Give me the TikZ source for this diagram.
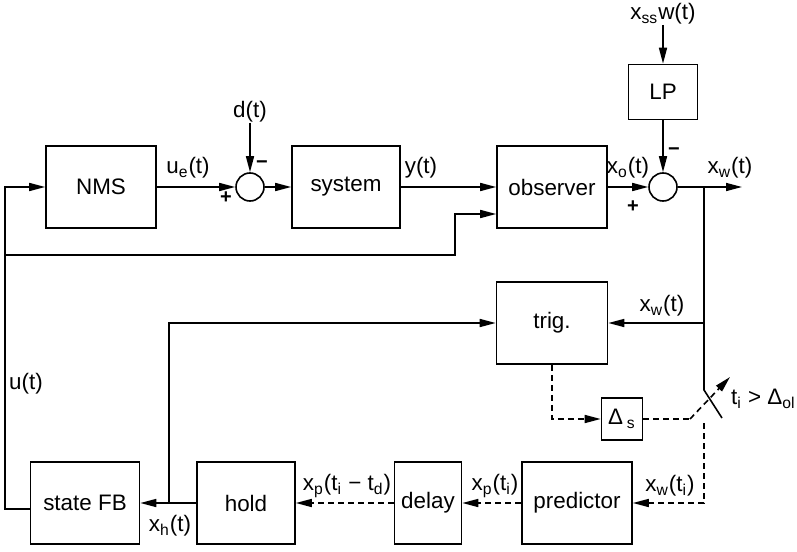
\documentclass[tikz,border=0pt]{standalone}
\usepackage{fontspec}
\setmainfont{Liberation Sans}
\usetikzlibrary{arrows.meta}
\def\sub#1{\textsubscript{#1}}
\tikzset{
	block/.style={draw, line width=0.8pt, minimum height=41pt, inner sep=0pt},
	sumnode/.style={draw, circle, line width=0.8pt, minimum size=14pt, inner sep=0pt},
	sig/.style={line width=0.8pt, -{Triangle[length=8pt,width=4pt]}},
	ln/.style={line width=0.8pt},
	dsh/.style={dash pattern=on 3pt off 2pt},
	lab/.style={inner sep=0pt}
}
\begin{document}
\begin{tikzpicture}[x=0.5pt, y=-0.5pt, font=\fontsize{11.2}{13}\selectfont]
			%%%%% START %%%%%
			\useasboundingbox (0,0) rectangle (797,551);
			
			% upper loop
			\node[block, minimum width=55pt] (nms) at (101,187) {NMS};
			\node[sumnode] (sumd) at (250,187) {};
			\node[block, minimum width=54pt] (sys) at (346,187) {system};
			\node[block, minimum width=55pt] (obs) at (552,187) {observer};
			\node[sumnode] (sumw) at (663,187) {};
			\node[block, minimum width=34.5pt, minimum height=27.5pt] (lp) at (663,92) {LP};
			
			% event trigger
			\node[block, minimum width=55.5pt] (trig) at (552,323) {trig.};
			\node[block, minimum width=20.5pt, minimum height=21pt] (ds) at (622,419) {Δ\,\sub{s}};
			
			% lower row
			\node[block, minimum width=54.5pt] (sfb) at (85,503) {state FB};
			\node[block, minimum width=49pt] (hold) at (246,503) {hold};
			\node[block, minimum width=33.5pt] (delay) at (428,503) {delay};
			\node[block, minimum width=55pt] (pred) at (577,503) {predictor};
			
			% labels
			\node[lab] (dlab) at (250,112) {d(t)};
			\node[lab] (xsslab) at (663,14) {x\sub{ss}w(t)};
			\node[lab] (uelab) at (188,168) {u\sub{e}(t)};
			\node[lab] (ylab) at (421,168) {y(t)};
			\node[lab] (xolab) at (628,168) {x\sub{o}(t)};
			\node[lab] (xwlab) at (730,168) {x\sub{w}(t)};
			\node[lab] (xwtlab) at (662,306) {x\sub{w}(t)};
			\node[lab, anchor=east] (swlab) at (796,399) {t\sub{i} > Δ\sub{ol}};
			\node[lab] (xwilab) at (670,486) {x\sub{w}(t\sub{i})};
			\node[lab] (xpilab) at (495,486) {x\sub{p}(t\sub{i})};
			\node[lab] (xpdlab) at (347,486) {x\sub{p}(t\sub{i} − t\sub{d})};
			\node[lab] (xhlab) at (170,526) {x\sub{h}(t)};
			\node[lab] (ulab) at (26,384) {u(t)};
			\node[lab, font=\bfseries] (m1) at (262,165) {−};
			\node[lab, font=\bfseries] (p1) at (226,198) {+};
			\node[lab, font=\bfseries] (m2) at (674,152) {−};
			\node[lab, font=\bfseries] (p2) at (633,207) {+};
			
			\coordinate (out) at (742,187);
			\coordinate (br) at (704,187);
			\coordinate (swtop) at (704,390);
			\coordinate (swend) at (722,418);
			\coordinate (swbot) at (704,423);
			\coordinate (swa) at (690,419);
			\coordinate (swb) at (730,377);
			\coordinate (fbl) at (5,509);
			\coordinate (lft) at (5,255);
			\coordinate (obsin) at (455,255);
			\coordinate (hb) at (169,503);
			
			% solid connections
			\draw[sig] (nms) -- (sumd);
			\draw[sig] (dlab) -- (sumd);
			\draw[sig] (sumd) -- (sys);
			\draw[sig] (sys) -- (obs);
			\draw[sig] (obs) -- (sumw);
			\draw[sig] (xsslab) -- (lp);
			\draw[sig] (lp) -- (sumw);
			\draw[sig] (sumw) -- (out);
			\draw[ln] (br) -- (swtop) -- (swend);
			\draw[sig] (br |- trig) -- (trig);
			\draw[sig] (sfb.west |- fbl) -- (fbl) |- (nms);
			\draw[sig] (lft) -- (obsin) |- ([yshift=-13.5pt]obs.west);
			\draw[sig] (hold) -- (sfb);
			\draw[sig] (hb) |- (trig);
			
			% dashed connections
			\draw[sig, dsh] (trig) |- (ds);
			\draw[ln, dsh] (ds) -- (swa);
			\draw[sig, dsh] (swa) -- (swb);
			\draw[sig, dsh] (swbot) |- (pred);
			\draw[sig, dsh] (pred) -- (delay);
			\draw[sig, dsh] (delay) -- (hold);
			
			%%%%% END %%%%%
\end{tikzpicture}
\end{document}
